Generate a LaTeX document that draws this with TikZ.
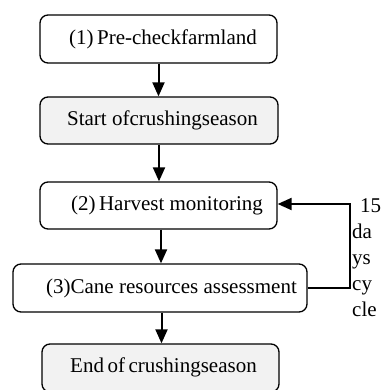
\documentclass[tikz,border=0pt]{standalone}
\usepackage{fontspec}
\setmainfont{Liberation Serif}
\usetikzlibrary{arrows.meta}
\definecolor{boxgray}{HTML}{F2F2F2}
\begin{document}
\begin{tikzpicture}[x=1pt,y=-1pt,
  box/.style={draw, line width=1.3pt, rounded corners=8pt, inner sep=0pt},
  lbl/.style={font=\fontsize{21}{26}\selectfont, inner sep=0pt},
  flow/.style={line width=2pt, -{Triangle[width=12pt,length=14pt]}}]
\useasboundingbox (0,0) rectangle (381,390);
\fill[white] (0,0) rectangle (381,390);
\begin{scope}
\clip (0,0) rectangle (381,390);
\node[box, minimum width=237pt, minimum height=48pt] (b1) at (158.5,39) {};
\node[box, fill=boxgray, minimum width=238pt, minimum height=47pt] (b2) at (159,120.5) {};
\node[box, minimum width=237pt, minimum height=47pt] (b3) at (158.5,205.5) {};
\node[box, minimum width=294pt, minimum height=48pt] (b4) at (160,288) {};
\node[box, fill=boxgray, minimum width=237pt, minimum height=48pt] (b5) at (160.5,368) {};
\end{scope}
\node[lbl] (t1) at (163,39) {(1)\,Pre-checkfarmland};
\node[lbl] (t2) at (162.5,120.5) {Start ofcrushingseason};
\node[lbl] (t3) at (167,205.5) {(2)\,Harvest monitoring};
\node[lbl] (t4) at (171.5,288) {(3)Cane resources assessment};
\node[lbl] (t5) at (163.5,367) {End\,of\,crushingseason};
\draw[flow] (b1.south) -- (b1.south |- b2.north);
\draw[flow] (b2.south) -- (b2.south |- b3.north);
\draw[flow] (b3.south) ++(2.5,0) coordinate (s3) -- (s3 |- b4.north);
\draw[flow] (b4.south) ++(1.5,0) coordinate (s4) -- (s4 |- b5.north);
\coordinate (c1) at (350,288);
\coordinate (c2) at (350,204);
\draw[flow] (b4.east) -- (c1) -- (c2) -- (c2 -| b3.east);
\node[lbl, anchor=north west, align=left] (side) at (352,198) {\hspace*{8pt}15\\da\\ys\\cy\\cle};
\end{tikzpicture}
\end{document}
